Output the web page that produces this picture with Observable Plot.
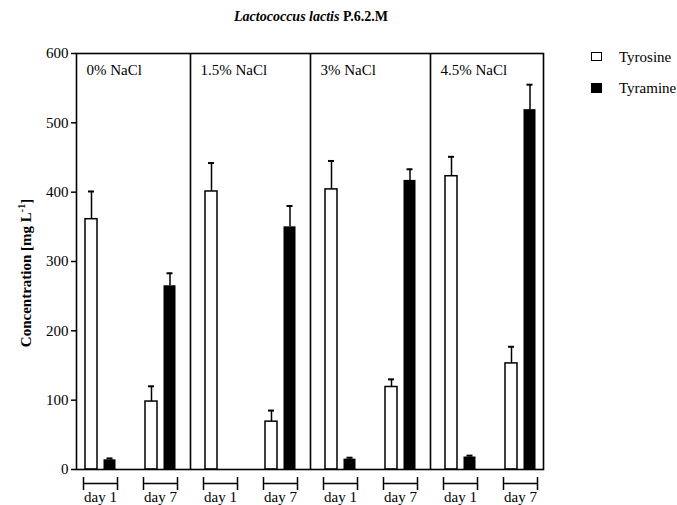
<!DOCTYPE html>
<html>
<head>
<meta charset="utf-8">
<script src="https://cdn.jsdelivr.net/npm/d3@7"></script>
<script src="https://cdn.jsdelivr.net/npm/@observablehq/plot@0.6"></script>
<style>
  html, body { margin: 0; padding: 0; background: #fff; }
  #wrap { position: relative; width: 677px; height: 505px; overflow: hidden; font-family: "Liberation Serif", "DejaVu Serif", serif; color: #000; }
  #wrap svg { position: absolute; left: 0; top: 0; }
  #wrap svg, #wrap svg text { font-family: "Liberation Serif", "DejaVu Serif", serif !important; }
  .title { position: absolute; left: 0; width: 622px; top: 9px; text-align: center; font-size: 14px; font-weight: bold; font-family: "Liberation Serif", serif; }
  .ylab { position: absolute; left: 25px; top: 273px; transform: translate(-50%, -50%) rotate(-90deg); white-space: nowrap; font-size: 15px; font-weight: bold; font-family: "Liberation Serif", serif; }
  .ylab sup { font-size: 10px; }
  .leg { position: absolute; left: 591px; font-size: 15px; line-height: 15px; font-family: "Liberation Serif", serif; }
  .leg .sw { position: absolute; left: 0; width: 9px; height: 7px; border: 1.5px solid #000; }
  .leg .tx { position: absolute; left: 28px; top: -2px; white-space: nowrap; }
</style>
</head>
<body>
<div id="wrap">
  <div class="title"><i>Lactococcus lactis</i> P.6.2.M</div>
  <div class="ylab">Concentration [mg L<sup>-1</sup>]</div>
  <div class="leg" style="top:52px"><div class="sw" style="background:#fff"></div><div class="tx">Tyrosine</div></div>
  <div class="leg" style="top:83px"><div class="sw" style="background:#000;height:8px"></div><div class="tx">Tyramine</div></div>
</div>
<script>
// ---- data ----
const panels = ["0%", "1.5%", "3%", "4.5%"];
const days = ["day 1", "day 7"];
const series = ["Tyrosine", "Tyramine"];
// order: panel x day (0% d1, 0% d7, 1.5% d1, 1.5% d7, ...)
const tyrosine    = [361, 98, 401, 69, 404, 119, 423, 153];
const tyrosineErr = [40, 22, 41, 16, 41, 11, 28, 24];
const tyramine    = [14, 265, 0, 350, 15, 417, 18, 519];
const tyramineErr = [2, 18, 0, 30, 2, 16, 2, 36];
const yTicks = [0, 100, 200, 300, 400, 500, 600];

// ---- build table ----
const groups = panels.flatMap(p => days.map(d => p + "|" + d));
const rows = [];
groups.forEach((g, i) => {
  rows.push({group: g, series: series[0], value: tyrosine[i], err: tyrosineErr[i]});
  rows.push({group: g, series: series[1], value: tyramine[i], err: tyramineErr[i]});
});
const tyr = rows.filter(d => d.series === "Tyrosine");
const tym = rows.filter(d => d.series === "Tyramine" && d.value > 0);

const bracket = {
  draw(ctx) {
    const w = 17, h = 6.5;
    ctx.moveTo(-w, -h); ctx.lineTo(-w, h);
    ctx.moveTo(-w, 0); ctx.lineTo(w, 0);
    ctx.moveTo(w, -h); ctx.lineTo(w, h);
  }
};

const serif = "Liberation Serif, DejaVu Serif, serif";
const chart = Plot.plot({
  width: 677,
  height: 505,
  marginTop: 53,
  marginBottom: 36,
  marginLeft: 76,
  marginRight: 134,
  style: {fontFamily: serif, fontSize: "15px", color: "#000", background: "transparent", overflow: "visible"},
  x: {type: "band", domain: groups, paddingInner: 0.434, paddingOuter: 0.105, align: 0.5, axis: null},
  y: {domain: [0, 600], axis: null},
  marks: [
    Plot.barY(tyr, {x: "group", y: "value", fill: "white", stroke: "black", strokeWidth: 1.5, insetLeft: 2, insetRight: 20}),
    Plot.barY(tym, {x: "group", y: "value", fill: "black", insetLeft: 20.5, insetRight: 1.5}),
    Plot.ruleX(tyr, {x: "group", y1: "value", y2: d => d.value + d.err, dx: -9, stroke: "black", strokeWidth: 1.5}),
    Plot.tickY(tyr, {x: "group", y: d => d.value + d.err, insetLeft: 5, insetRight: 23, stroke: "black", strokeWidth: 2}),
    Plot.ruleX(tym, {x: "group", y1: "value", y2: d => d.value + d.err, dx: 9.5, stroke: "black", strokeWidth: 1.5}),
    Plot.tickY(tym, {x: "group", y: d => d.value + d.err, insetLeft: 23.5, insetRight: 4.5, stroke: "black", strokeWidth: 2}),
    Plot.ruleX(panels.slice(1), {x: d => d + "|day 1", dx: -30, stroke: "black", strokeWidth: 1.6}),
    Plot.frame({stroke: "black", strokeWidth: 1.6}),
    Plot.text(panels.slice(0, 1), {frameAnchor: "top-left", text: d => d + " NaCl", textAnchor: "start", lineAnchor: "middle", dx: 10, dy: 17, fontSize: 15, fontFamily: serif, fill: "black"}),
    Plot.text(panels.slice(1), {x: d => d + "|day 1", frameAnchor: "top", text: d => d + " NaCl", textAnchor: "start", lineAnchor: "middle", dx: -20, dy: 17, fontSize: 15, fontFamily: serif, fill: "black"}),
    Plot.dot(groups, {x: d => d, y: () => 0, dy: 14, symbol: bracket, r: 4, fill: "none", stroke: "black", strokeWidth: 1.5}),
    Plot.axisX(groups, {tickSize: 0, tickPadding: 22, tickFormat: d => d.split("|")[1], fontSize: 15, fontFamily: serif, label: null}),
    Plot.axisY(yTicks, {tickSize: 5, tickPadding: 3, fontSize: 15, fontFamily: serif, label: null, strokeWidth: 1.5})
  ]
});
document.getElementById("wrap").prepend(chart);
</script>
</body>
</html>
